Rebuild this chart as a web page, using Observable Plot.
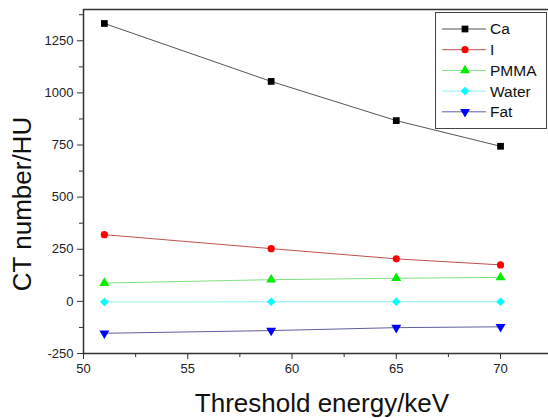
<!DOCTYPE html>
<html><head><meta charset="utf-8">
<script src="https://cdn.jsdelivr.net/npm/d3@7"></script>
<script src="https://cdn.jsdelivr.net/npm/@observablehq/plot@0.6"></script>
<style>
body{margin:0;background:#fff;}
svg{font-family:"Liberation Sans",Arial,sans-serif;}
</style></head><body><div id="chart"></div>
<script>
const energies = [51, 59, 65, 70];
const seriesNames = ["Ca", "I", "PMMA", "Water", "Fat"];
const ca = [1333, 1055, 867, 744];
const iodine = [320, 253, 204, 175];
const pmma = [88, 104, 111, 115];
const water = [-3, -2, -2, -2];
const fat = [-153, -140, -126, -122];
const xTicks = [50, 55, 60, 65, 70];
const yTicks = [-250, 0, 250, 500, 750, 1000, 1250];
const xMinor = [52.5, 57.5, 62.5, 67.5];
const yMinor = [-125, 125, 375, 625, 875, 1125, 1375];
const xTitle = "Threshold energy/keV";
const yTitle = "CT number/HU";
const markerColors = ["#000000", "#ff0000", "#00ee00", "#00ffff", "#0000ff"];
const lineColors = ["#555555", "#c05050", "#80e080", "#90f0f0", "#6060a0"];
const symbols = ["square", "circle", "triangle", "diamond2", "triangle"];
const rotations = [0, 0, 0, 0, 180];
const sizes = [3.8, 3.6, 3.7, 3.9, 3.7];

const allValues = [ca, iodine, pmma, water, fat];
const data = [];
seriesNames.forEach((s, i) => energies.forEach((e, j) => data.push({series: s, idx: i, x: e, y: allValues[i][j]})));

const plot = Plot.plot({
  width: 548, height: 418,
  marginLeft: 83, marginRight: 0, marginTop: 9, marginBottom: 65,
  style: {fontFamily: '"Liberation Sans", Arial, sans-serif', fontSize: "13px", color: "#222"},
  x: {type: "linear", domain: [50, 72.3], label: null},
  y: {type: "linear", domain: [-250, 1400], label: null},
  marks: [
    Plot.ruleY([-250], {stroke: "#333", strokeWidth: 1.5}),
    Plot.ruleX([50], {stroke: "#333", strokeWidth: 1.5}),
    Plot.ruleY([1400], {stroke: "#333", strokeWidth: 1.5}),
    Plot.axisX({ticks: xTicks, tickSize: 6, tickPadding: 4, stroke: "#333", fontSize: 13, label: null, tickFormat: d => String(d)}),
    Plot.axisX({ticks: xMinor, tickSize: 4, tickFormat: () => "", stroke: "#333", label: null}),
    Plot.axisY({ticks: yTicks, tickSize: 6, tickPadding: 4, stroke: "#333", fontSize: 13, label: null, tickFormat: d => String(d)}),
    Plot.axisY({ticks: yMinor, tickSize: 4, tickFormat: () => "", stroke: "#333", label: null}),
    ...seriesNames.map((s, i) => Plot.line(data.filter(d => d.series === s), {x: "x", y: "y", stroke: lineColors[i], strokeWidth: 1})),
    ...seriesNames.map((s, i) => Plot.dot(data.filter(d => d.series === s), {x: "x", y: "y", symbol: () => symbols[i], r: sizes[i], fill: markerColors[i], stroke: "none", rotate: rotations[i]}))
  ]
});
document.getElementById("chart").appendChild(plot);

const svg = d3.select(plot);
// axis titles
svg.append("text").attr("x", 322).attr("y", 412).attr("text-anchor", "middle").attr("font-size", 26).attr("fill", "#111").text(xTitle);
svg.append("text").attr("transform", "translate(31,204) rotate(-90)").attr("text-anchor", "middle").attr("font-size", 26).attr("fill", "#111").text(yTitle);

// legend
const lg = svg.append("g").attr("text-anchor", "start");
lg.append("rect").attr("x", 435.5).attr("y", 12.5).attr("width", 111).attr("height", 116).attr("fill", "#fff").attr("stroke", "#444").attr("stroke-width", 1);
const sym = {square: d3.symbolSquare, circle: d3.symbolCircle, triangle: d3.symbolTriangle, diamond2: d3.symbolDiamond2};
seriesNames.forEach((s, i) => {
  const y = 29 + i * 20.7;
  lg.append("line").attr("x1", 442).attr("x2", 486).attr("y1", y).attr("y2", y).attr("stroke", lineColors[i]).attr("stroke-width", 1);
  const r = sizes[i];
  const area = Math.PI * r * r;
  lg.append("path").attr("d", d3.symbol(sym[symbols[i]], area)()).attr("transform", `translate(465,${y}) rotate(${rotations[i]})`).attr("fill", markerColors[i]);
  lg.append("text").attr("x", 490).attr("y", y).attr("dy", "0.35em").attr("font-size", 15.5).attr("fill", "#111").attr("text-anchor", "start").text(s);
});
</script></body></html>
